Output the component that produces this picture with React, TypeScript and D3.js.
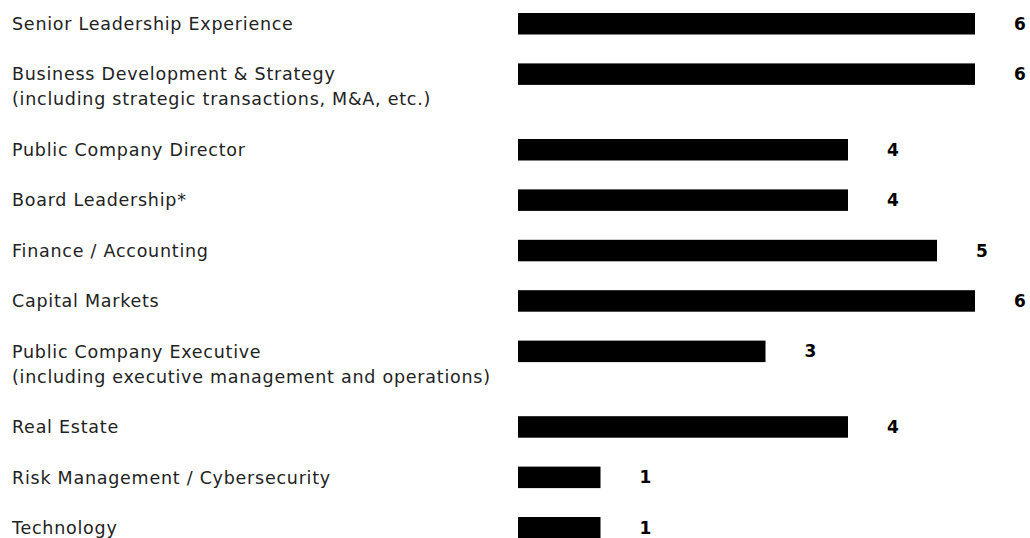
import React, { useEffect, useRef } from "react";
import * as d3 from "d3";

// skill categories (each entry = lines of the label)
const categories: string[][] = [
  ["Senior Leadership Experience"],
  ["Business Development & Strategy", "(including strategic transactions, M&A, etc.)"],
  ["Public Company Director"],
  ["Board Leadership*"],
  ["Finance / Accounting"],
  ["Capital Markets"],
  ["Public Company Executive", "(including executive management and operations)"],
  ["Real Estate"],
  ["Risk Management / Cybersecurity"],
  ["Technology"],
];
const counts: number[] = [6, 6, 4, 4, 5, 6, 3, 4, 1, 1];

export default function App() {
  const svgRef = useRef<SVGSVGElement>(null);

  useEffect(() => {
    const w = 1030;
    const h = 538;
    const svg = d3.select(svgRef.current).attr("width", w).attr("height", h);
    svg.selectAll("*").remove();

    const font = "'DejaVu Sans', Verdana, sans-serif";
    const barX = 518;
    const barH = 21.5;

    // rows with two-line labels take one and a half slots
    const slots: number[] = [];
    let acc = 0;
    categories.forEach((c) => {
      slots.push(acc);
      acc += 1 + 0.5 * (c.length - 1);
    });
    const yScale = d3
      .scaleLinear()
      .domain([0, slots[slots.length - 1]])
      .range([13, 517]);

    // the widest bars are squeezed a bit in the original
    const xScale = d3.scaleLinear().domain([0, 4, 5, 6]).range([0, 330, 419, 457]);

    const rows = svg
      .selectAll("g.row")
      .data(counts)
      .join("g")
      .attr("class", "row")
      .attr("transform", (d, i) => `translate(0,${yScale(slots[i])})`);

    rows
      .append("rect")
      .attr("x", barX)
      .attr("y", 0)
      .attr("width", (d) => xScale(d))
      .attr("height", barH)
      .attr("fill", "#000");

    rows
      .append("text")
      .attr("x", (d) => barX + xScale(d) + 39)
      .attr("y", barH / 2)
      .attr("dy", "0.36em")
      .attr("font-family", font)
      .attr("font-size", 17)
      .attr("font-weight", "bold")
      .attr("fill", "#000")
      .text((d) => d);

    const labels = rows
      .append("text")
      .attr("x", 12)
      .attr("y", barH / 2)
      .attr("font-family", font)
      .attr("font-size", 17.5)
      .attr("letter-spacing", 0.75)
      .attr("fill", "#222");

    labels
      .selectAll("tspan")
      .data((d, i) => categories[i])
      .join("tspan")
      .attr("x", 12)
      .attr("dy", (d, j) => (j === 0 ? "0.36em" : 25))
      .text((d) => d);
  }, []);

  return (
    <div className="Graph">
      <svg ref={svgRef} style={{ position: "absolute", left: 0, top: 0, background: "#fff" }}></svg>
    </div>
  );
}
